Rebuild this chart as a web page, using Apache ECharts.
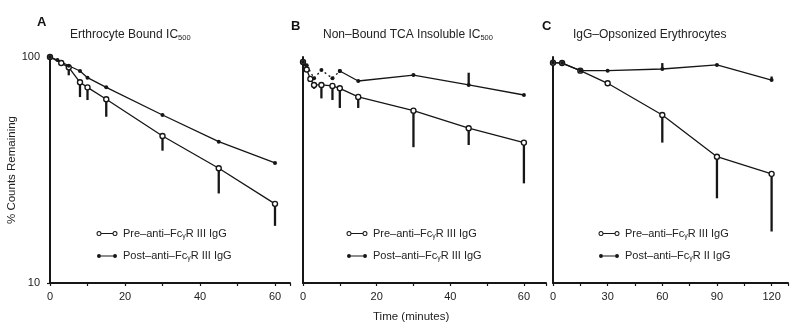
<!DOCTYPE html>
<html><head><meta charset="utf-8">
<script src="https://cdn.jsdelivr.net/npm/echarts@6/dist/echarts.min.js"></script>
<style>html,body{margin:0;padding:0;background:#fff}#c{width:791px;height:323px}</style>
</head><body><div id="c"></div>
<script>
// ---- Data ----
// Panel A: Erythrocyte bound IC500
const aPreT   = [0, 3, 5, 8, 10, 15, 30, 45, 60];
const aPreV   = [100, 94, 90, 77.3, 73.4, 65, 44.7, 32.2, 22.4];
const aPreLow = [100, 94, 83, 66.5, 64.5, 54.4, 38.5, 24.9, 17.9];
const aPostT  = [0, 2, 5, 8, 10, 15, 30, 45, 60];
const aPostV  = [100, 97, 91.5, 86.7, 81, 73.4, 55.4, 42.2, 34.0];

// Panel B: Non-bound TCA insoluble IC500
const bPreT   = [0, 1, 2, 3, 5, 8, 10, 15, 30, 45, 60];
const bPreV   = [95, 88, 80, 75.2, 75.2, 74.5, 72.7, 66.6, 57.9, 48.4, 41.8];
const bPreLow = [95, 88, 80, 72.3, 65.6, 64.5, 59.5, 59.5, 39.9, 40.8, 27.6];
const bPostDotT = [0, 1, 3, 5, 8, 10];
const bPostDotV = [95, 92, 80.5, 87.6, 80.5, 86.7];
const bPostT  = [10, 15, 30, 45, 60];
const bPostV  = [86.7, 78.3, 83.2, 75.2, 67.9];
const bPostHigh = [86.7, 78.3, 83.2, 85.2, 67.9];

// Panel C: IgG-opsonized erythrocytes
const cPreT   = [0, 5, 15, 30, 60, 90, 120];
const cPreV   = [94.4, 94, 87, 76.5, 55.4, 36.2, 30.4];
const cPreLow = [94.4, 94, 87, 76.5, 41.8, 23.7, 16.9];
const cPostT  = [0, 5, 15, 30, 60, 90, 120];
const cPostV  = [94.4, 94, 87, 87, 88.5, 92.2, 79.1];
const cPostHigh = [94.4, 94, 87, 87, 94, 92.2, 82];

const xTicksA = [0, 20, 40, 60];
const xTicksB = [0, 20, 40, 60];
const xTicksC = [0, 30, 60, 90, 120];
const yTicks = [10, 100];

const panelLetters = ['A', 'B', 'C'];
const panelTitles = [
  '{t|Erthrocyte Bound IC}{s|500}',
  '{t|Non–Bound TCA Insoluble IC}{s|500}',
  '{t|IgG–Opsonized Erythrocytes}'
];
const legendNames = {
  preA: '{a|Pre–anti–Fc}{s|γ}{a|R III IgG}',
  postA: '{a|Post–anti–Fc}{s|γ}{a|R III IgG}',
  preB: '{a|Pre–anti–Fc}{s|γ}{a|R III IgG}',
  postB: '{a|Post–anti–Fc}{s|γ}{a|R III IgG}',
  preC: '{a|Pre–anti–Fc}{s|γ}{a|R III IgG}',
  postC: '{a|Post–anti–Fc}{s|γ}{a|R II IgG}'
};

// ---- Chart ----
const INK = '#161616';
const FONT = 'Liberation Sans, Arial, sans-serif';
const pairs = (xs, ys) => xs.map((x, i) => [x, ys[i]]);
const bars = (xs, a, b) => xs.map((x, i) => [x, a[i], b[i]]).filter(d => Math.abs(d[1] - d[2]) > 0.01);

const ringL = 'M0.5,3 A2.5,2.5 0 1,1 5.5,3 A2.5,2.5 0 1,1 0.5,3 Z M1.5,3 A1.5,1.5 0 1,0 4.5,3 A1.5,1.5 0 1,0 1.5,3 Z';
const ringR = 'M16.5,3 A2.5,2.5 0 1,1 21.5,3 A2.5,2.5 0 1,1 16.5,3 Z M17.5,3 A1.5,1.5 0 1,0 20.5,3 A1.5,1.5 0 1,0 17.5,3 Z';
const dotL = 'M1,3 A2,2 0 1,1 5,3 A2,2 0 1,1 1,3 Z';
const dotR = 'M17,3 A2,2 0 1,1 21,3 A2,2 0 1,1 17,3 Z';
const frame = ' M0,0 L0,0.01 L0.01,0 Z M22,6 L22,5.99 L21.99,6 Z';
const preIcon = 'path://' + ringL + ' M5.5,2.6 L16.5,2.6 L16.5,3.4 L5.5,3.4 Z ' + ringR + frame;
const postIcon = 'path://' + dotL + ' M5,2.55 L17,2.55 L17,3.45 L5,3.45 Z ' + dotR + frame;

const grids = [
  {left: 50, top: 57, width: 240, height: 226},
  {left: 303, top: 57, width: 243, height: 226},
  {left: 553, top: 57, width: 238, height: 226}
];
const xMax = [64, 66, 129];
const xInt = [20, 20, 30];
const xTickSets = [xTicksA, xTicksB, xTicksC];

const xAxes = grids.map((g, i) => ({
  type: 'value', gridIndex: i, min: 0, max: xMax[i], interval: xInt[i],
  axisLine: {lineStyle: {color: INK, width: 2}},
  axisTick: {show: true, length: 3, lineStyle: {color: INK, width: 1.2}},
  minorTick: {show: true, splitNumber: 2, length: 3, lineStyle: {color: INK, width: 1.2}},
  splitLine: {show: false},
  axisLabel: {color: '#222', fontFamily: FONT, fontSize: 11, margin: 8,
    formatter: v => xTickSets[i].includes(v) ? String(v) : ''}
}));
const yAxes = grids.map((g, i) => ({
  type: 'log', logBase: 10, gridIndex: i, min: 10, max: 100,
  axisLine: {show: true, lineStyle: {color: INK, width: 2}},
  axisTick: {show: i === 0, length: 3, lineStyle: {color: INK, width: 1.2}},
  splitLine: {show: false},
  axisLabel: {show: i === 0, color: '#222', fontFamily: FONT, fontSize: 11, margin: 10,
    formatter: v => yTicks.includes(Math.round(v)) ? String(Math.round(v)) : ''},
  name: i === 0 ? '% Counts Remaining' : '', nameLocation: 'middle', nameGap: 27,
  nameTextStyle: {color: '#222', fontFamily: FONT, fontSize: 11.5}
}));

function preSeries(name, idx, xs, ys) {
  return {name, type: 'line', xAxisIndex: idx, yAxisIndex: idx, data: pairs(xs, ys),
    symbol: 'circle', symbolSize: 5, showSymbol: true, z: 3,
    lineStyle: {color: INK, width: 1.3},
    itemStyle: {color: '#fff', borderColor: INK, borderWidth: 1.4}};
}
function postSeries(name, idx, xs, ys, dotted) {
  return {name, type: 'line', xAxisIndex: idx, yAxisIndex: idx, data: pairs(xs, ys),
    symbol: 'circle', symbolSize: 4, z: 3,
    lineStyle: {color: INK, width: 1.3, type: dotted ? [2, 3] : 'solid'},
    itemStyle: {color: INK, borderWidth: 0}};
}
function errSeries(idx, data) {
  return {type: 'custom', xAxisIndex: idx, yAxisIndex: idx, data, z: 2, silent: true,
    encode: {x: 0, y: [1, 2]},
    renderItem: (params, api) => {
      const p1 = api.coord([api.value(0), api.value(1)]);
      const p2 = api.coord([api.value(0), api.value(2)]);
      return {type: 'line', shape: {x1: p1[0], y1: p1[1], x2: p2[0], y2: p2[1]},
        style: {stroke: INK, lineWidth: 2.3}};
    }};
}

const series = [
  errSeries(0, bars(aPreT, aPreV, aPreLow)),
  preSeries('preA', 0, aPreT, aPreV),
  postSeries('postA', 0, aPostT, aPostV),
  errSeries(1, bars(bPreT, bPreV, bPreLow)),
  errSeries(1, bars(bPostT, bPostV, bPostHigh)),
  preSeries('preB', 1, bPreT, bPreV),
  postSeries('postBdot', 1, bPostDotT, bPostDotV, true),
  postSeries('postB', 1, bPostT, bPostV),
  errSeries(2, bars(cPreT, cPreV, cPreLow)),
  errSeries(2, bars(cPostT, cPostV, cPostHigh)),
  preSeries('preC', 2, cPreT, cPreV),
  postSeries('postC', 2, cPostT, cPostV)
];

const legendLeft = [96, 346, 598];
const legendSets = [['preA', 'postA'], ['preB', 'postB'], ['preC', 'postC']];
const legends = legendSets.map((names, i) => ({
  left: legendLeft[i], top: 228, orient: 'vertical', itemGap: 11,
  itemWidth: 22, itemHeight: 6, selectedMode: false, padding: 0,
  data: names.map((n, k) => ({name: n, icon: k === 0 ? preIcon : postIcon,
    itemStyle: {color: INK, borderWidth: 0}})),
  formatter: n => legendNames[n],
  textStyle: {color: '#222', fontFamily: FONT, fontSize: 11,
    rich: {a: {fontSize: 11, fontFamily: FONT, color: '#222', lineHeight: 12},
           s: {fontSize: 7, fontFamily: FONT, color: '#222', lineHeight: 12, verticalAlign: 'bottom', padding: [3, 0, 0, 0]}}}
}));

const letterPos = [[37, 16], [291, 20], [542, 20]];
const titlePos = [70, 323, 573];
const titles = [];
panelLetters.forEach((L, i) => titles.push({text: L, left: letterPos[i][0], top: letterPos[i][1], padding: 0,
  textStyle: {fontFamily: FONT, fontSize: 13, fontWeight: 'bold', color: '#111'}}));
panelTitles.forEach((t, i) => titles.push({text: t, left: titlePos[i], top: 28, padding: 0,
  textStyle: {fontFamily: FONT, fontSize: 12, fontWeight: 'normal', color: '#222',
    rich: {t: {fontFamily: FONT, fontSize: 12, color: '#222', lineHeight: 14},
           s: {fontFamily: FONT, fontSize: 7.5, color: '#222', lineHeight: 14, verticalAlign: 'bottom', padding: [4, 0, 0, 0]}}}}));
titles.push({text: 'Time (minutes)', left: 373, top: 311, padding: 0,
  textStyle: {fontFamily: FONT, fontSize: 11.5, fontWeight: 'normal', color: '#222'}});

const chart = echarts.init(document.getElementById('c'), null, {renderer: 'canvas'});
chart.setOption({
  animation: false, backgroundColor: '#fff',
  title: titles, grid: grids, xAxis: xAxes, yAxis: yAxes, legend: legends, series
});
</script></body></html>
